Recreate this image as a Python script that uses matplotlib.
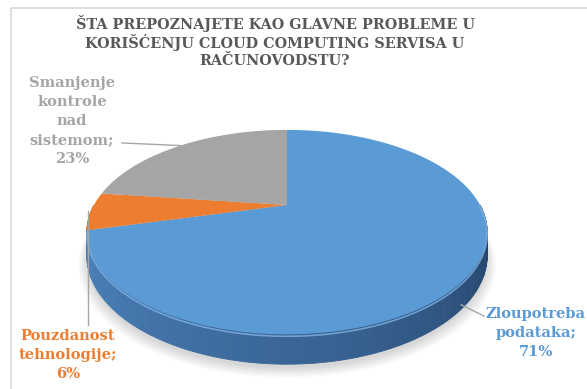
import numpy as np
import matplotlib.pyplot as plt
from matplotlib.colors import to_rgb
from matplotlib.patches import Rectangle

# data
names = ["Zloupotreba\npodataka;", "Pouzdanost\ntehnologije;", "Smanjenje\nkontrole\nnad\nsistemom;"]
shares = [71, 6, 23]
colors = ["#5b9bd5", "#ed7d31", "#a5a5a5"]
text_colors = ["#5b9bd5", "#ed7d31", "#a5a5a5"]
title = "ŠTA PREPOZNAJETE KAO GLAVNE PROBLEME U\nKORIŠĆENJU CLOUD COMPUTING SERVISA U\nRAČUNOVODSTU?"

W, H = 587, 389
fig = plt.figure(figsize=(W / 100, H / 100), dpi=100)
ax = fig.add_axes([0, 0, 1, 1])
ax.set_xlim(0, W)
ax.set_ylim(H, 0)
ax.axis('off')

# chart frame (right/bottom edges fall outside the crop)
ax.add_patch(Rectangle((11, 8), 700, 500, fill=False, edgecolor='#d9d9d9', lw=1.2))

# perspective pie geometry
cx, cy = 287, 205
fx, fy = 193, 95
k = 0.265
depth = 22


def proj(theta, drop=0.0):
    u = np.sin(theta)
    v = np.cos(theta)
    d = 1 + k * v
    return cx + fx * u / d, cy - fy * v / d + drop / d


bounds = np.concatenate([[0], np.cumsum(shares)]) / sum(shares) * 2 * np.pi

# soft shadow
full = np.linspace(0, 2 * np.pi, 300)
for i in range(8):
    sx, sy = proj(full, depth + 3 + i)
    sx = cx + (sx - cx) * (1 + 0.006 * i)
    ax.fill(sx, sy, color='#000000', alpha=0.02, lw=0)

# side wall strips, painted back to front
c_left = np.array(to_rgb("#5088c4"))
c_right = np.array(to_rgb("#1c385a"))
strips = []
for i, col in enumerate(colors):
    a0 = max(bounds[i], np.pi / 2)
    a1 = min(bounds[i + 1], 3 * np.pi / 2)
    if a1 <= a0:
        continue
    edges = np.linspace(a0, a1, max(2, int((a1 - a0) / np.radians(1)) + 1))
    base = np.array(to_rgb(col))
    for t0, t1 in zip(edges[:-1], edges[1:]):
        f = ((t0 + t1) / 2 - np.pi / 2) / np.pi  # 0 right -> 1 left
        if i == 0:
            shade = c_right + (c_left - c_right) * f ** 0.8
        else:
            shade = base * (0.55 + 0.35 * f)
        strips.append((np.cos((t0 + t1) / 2), t0, t1, shade))

for _, t0, t1, shade in sorted(strips, key=lambda s: -s[0]):
    ts = np.array([t0, t1])
    x_top, y_top = proj(ts)
    x_bot, y_bot = proj(ts[::-1], depth)
    ax.fill(np.r_[x_top, x_bot], np.r_[y_top, y_bot], color=shade, lw=0.6, ec=shade)

# top faces
for i, col in enumerate(colors):
    ts = np.linspace(bounds[i], bounds[i + 1], 200)
    x, y = proj(ts)
    ax.fill(np.r_[cx, x], np.r_[cy, y], color=col, lw=0)

# bevel highlight on the front edge
ts = np.linspace(np.pi / 2, min(bounds[1], 3 * np.pi / 2), 200)
hx, hy = proj(ts, 1.5)
ax.plot(hx, hy, color='#7fb2e2', lw=1.2, alpha=0.8)

# title
ax.text(275, 41, title, ha='center', va='center', fontsize=10.4, fontweight='bold',
        family='DejaVu Serif', color='#595959', linespacing=1.2)

# data labels and leader lines
label_pos = [(536, 333), (68, 355), (72, 121)]
leader_end = [(484, 316), (None, 325), (122, 143)]
for i, name in enumerate(names):
    mid = (bounds[i] + bounds[i + 1]) / 2
    lx, ly = label_pos[i]
    ax.text(lx, ly, f"{name}\n{shares[i]}%", ha='center', va='center', fontsize=10.5,
            fontweight='bold', family='DejaVu Serif', color=text_colors[i], linespacing=1.45)
    ex, ey = leader_end[i]
    if i == 0:
        sx, sy = proj(mid, depth)
        sx, sy = sx - 8, sy + 4
    else:
        sx, sy = proj(mid)
    if ex is None:
        sx = sx - 3
        ex = sx
    ax.plot([sx, ex], [sy, ey], color='#a6a6a6', lw=1)

fig.savefig('out.png', dpi=100)
